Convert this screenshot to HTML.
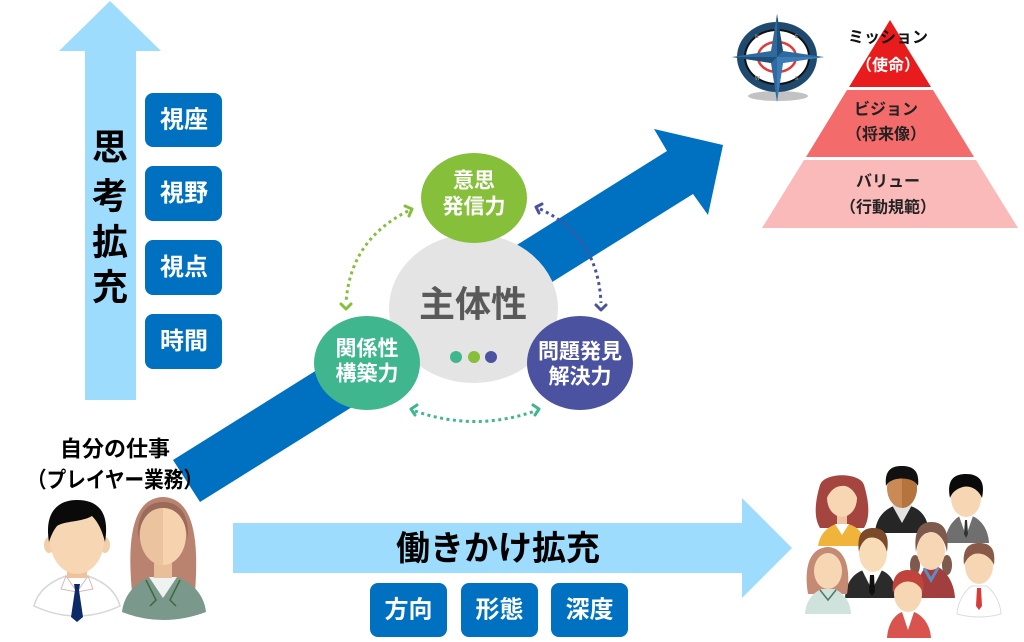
<!DOCTYPE html>
<html><head><meta charset="utf-8"><style>
html,body{margin:0;padding:0;background:#fff;}
svg{display:block}
text{font-family:"Liberation Sans","Noto Sans CJK JP",sans-serif;font-weight:700;}
</style></head><body>
<svg width="1024" height="642" viewBox="0 0 1024 642" xmlns="http://www.w3.org/2000/svg">
<!-- vertical light-blue arrow -->
<polygon points="110,1 161,51 136,51 136,400 85,400 85,51 59,51" fill="#9ddcfc"/>
<g font-size="36" fill="#000" text-anchor="middle" dominant-baseline="central">
<text x="110" y="147">思</text>
<text x="110" y="196">考</text>
<text x="110" y="242">拡</text>
<text x="110" y="287">充</text>
</g>
<!-- left boxes -->
<g fill="#0070c0">
<rect x="145" y="93" width="77" height="54" rx="8"/>
<rect x="145" y="166" width="77" height="55" rx="8"/>
<rect x="145" y="240" width="77" height="55" rx="8"/>
<rect x="145" y="314" width="77" height="55" rx="8"/>
</g>
<g font-size="24" fill="#fff" text-anchor="middle" dominant-baseline="central">
<text x="184" y="120">視座</text>
<text x="184" y="193.5">視野</text>
<text x="184" y="267.5">視点</text>
<text x="184" y="341.5">時間</text>
</g>

<!-- diagonal arrow -->
<polygon points="173,460 667,151 654,129 723,145 708,215 693,194 200,502" fill="#0070c0"/>

<!-- center circle -->
<ellipse cx="473.5" cy="308.5" rx="84.5" ry="74.5" fill="#e4e4e4"/>
<text x="473" y="304" font-size="36" fill="#595959" text-anchor="middle" dominant-baseline="central">主体性</text>
<circle cx="456" cy="357" r="6" fill="#3fb68e"/>
<circle cx="474" cy="357" r="6" fill="#86bf3a"/>
<circle cx="491" cy="357" r="6" fill="#4b53a0"/>

<!-- satellite circles -->
<ellipse cx="474" cy="198" rx="53" ry="45" fill="#86bf3a"/>
<ellipse cx="367" cy="363" rx="53" ry="47" fill="#3fb68e"/>
<ellipse cx="580" cy="363" rx="53" ry="47" fill="#4b53a0"/>
<g font-size="21" fill="#fff" text-anchor="middle" dominant-baseline="central">
<text x="474" y="181">意思</text>
<text x="474" y="207">発信力</text>
<text x="367" y="349">関係性</text>
<text x="367" y="374">構築力</text>
<text x="580" y="352">問題発見</text>
<text x="580" y="377">解決力</text>
</g>

<!-- dotted arcs -->
<g fill="none" stroke-width="3" stroke-dasharray="3 3.5">
<path d="M408,211 Q350,240 346,303" stroke="#86bf3a"/>
<path d="M540,209 Q598,236 601,303" stroke="#4b53a0"/>
<path d="M415,411 Q475,432 535,411" stroke="#3fb68e"/>
</g>
<g fill="none" stroke-width="3" stroke-linecap="round" stroke-linejoin="round">
<polyline points="405,206 412,209 409,216" stroke="#86bf3a"/>
<polyline points="341,304 346,309 351,304" stroke="#86bf3a"/>
<polyline points="542,204 536,207 539,213" stroke="#4b53a0"/>
<polyline points="596,305 601,310 606,305" stroke="#4b53a0"/>
<polyline points="417,405 411,409 415,415" stroke="#3fb68e"/>
<polyline points="533,405 539,409 535,415" stroke="#3fb68e"/>
</g>

<!-- compass -->
<ellipse cx="778" cy="96" rx="30" ry="5" fill="#9a9a9a" opacity="0.6"/>
<ellipse cx="777" cy="57" rx="40" ry="35" fill="#1d4a6e"/>
<ellipse cx="777" cy="57" rx="33" ry="28" fill="#111"/>
<ellipse cx="777" cy="57" rx="31" ry="26" fill="#fff"/>
<ellipse cx="777" cy="57" rx="19" ry="15" fill="none" stroke="#e03a3a" stroke-width="2.5"/>
<polygon points="777,14 783,51 824,57 783,63 777,102 771,63 732,57 771,51" fill="#2e6aa0"/>
<polygon points="777,14 783,51 777,57 771,63 732,57 777,57" fill="#1f4e79"/>
<polygon points="777,57 824,57 783,63 777,102" fill="#3b7cb6"/>
<g fill="#888" font-size="5"><text x="755" y="38">N</text><text x="795" y="38">E</text><text x="755" y="80">W</text><text x="795" y="80">S</text></g>

<!-- pyramid -->
<polygon points="890,20 931,87 849,87" fill="#e81c1c"/>
<polygon points="847,90 933,90 974,157 806,157" fill="#f36b6b"/>
<polygon points="804,160 976,160 1018,228 762,228" fill="#fbbaba"/>
<g font-size="16" text-anchor="middle" dominant-baseline="central">
<text x="888" y="38" fill="#111">ミッション</text>
<text x="888" y="66" fill="#fff">（使命）</text>
<text x="886" y="110" fill="#222">ビジョン</text>
<text x="886" y="135" fill="#222">（将来像）</text>
<text x="888" y="182" fill="#222">バリュー</text>
<text x="888" y="208" fill="#222">（行動規範）</text>
</g>

<!-- horizontal light-blue arrow -->
<polygon points="233,523 742,523 742,498 792,548 742,598 742,573 233,573" fill="#9ddcfc"/>
<text x="498" y="549" font-size="34" fill="#000" text-anchor="middle" dominant-baseline="central">働きかけ拡充</text>
<g fill="#0070c0">
<rect x="370" y="583" width="77" height="54" rx="8"/>
<rect x="461" y="583" width="77" height="54" rx="8"/>
<rect x="551" y="583" width="77" height="54" rx="8"/>
</g>
<g font-size="24" fill="#fff" text-anchor="middle" dominant-baseline="central">
<text x="408.5" y="610">方向</text>
<text x="499.5" y="610">形態</text>
<text x="589.5" y="610">深度</text>
</g>

<!-- left label -->
<g font-size="22" fill="#000" text-anchor="middle" dominant-baseline="central">
<text x="115" y="449">自分の仕事</text>
<text x="115" y="480" textLength="176" lengthAdjust="spacingAndGlyphs">（プレイヤー業務）</text>
</g>

<!-- man -->
<path d="M34,606 C38,590 52,581 66,576 L88,576 C102,581 116,590 120,606 Q77,626 34,606 Z" fill="#fff" stroke="#d6d6d6" stroke-width="1.5"/>
<rect x="67" y="560" width="20" height="18" fill="#eec39c"/>
<polygon points="66,576 77,592 61,589" fill="#fff" stroke="#d9b9b9" stroke-width="1"/>
<polygon points="88,576 77,592 93,589" fill="#fff" stroke="#d9b9b9" stroke-width="1"/>
<polygon points="74,584 80,584 79,590 83,617 77,622 71,617 75,590" fill="#0b2a66"/>
<ellipse cx="49" cy="545" rx="5" ry="8" fill="#f2ceaa"/>
<ellipse cx="105" cy="545" rx="5" ry="8" fill="#f2ceaa"/>
<ellipse cx="77" cy="540" rx="27" ry="34" fill="#f7d6b4"/>
<path d="M49,542 C44,512 58,500 77,500 C98,500 110,512 105,542 C102,530 98,522 92,516 C82,522 64,521 57,526 C53,531 51,536 49,542 Z" fill="#0a0a0a"/>

<!-- woman -->
<path d="M132,592 C127,540 132,498 163,497 C194,498 199,540 195,592 Z" fill="#b9836f"/>
<path d="M122,612 C124,592 140,580 150,577 L176,577 C188,580 204,592 206,612 Q163,628 122,612 Z" fill="#7a988b"/>
<polygon points="149,577 163,598 177,577" fill="#eef2f0"/>
<polyline points="146,580 156,600 150,606" fill="none" stroke="#3f6a3a" stroke-width="1.5"/>
<polyline points="180,580 170,600 176,606" fill="none" stroke="#3f6a3a" stroke-width="1.5"/>
<rect x="154" y="560" width="18" height="18" fill="#e8bf98"/>
<ellipse cx="163" cy="535" rx="23" ry="30" fill="#f6d3ae"/>
<path d="M163,505 L163,565 A23,30 0 0 1 140,535 A23,30 0 0 1 163,505 Z" fill="#ebc49f"/>
<path d="M138,540 C136,510 150,502 163,502 C176,502 190,510 188,540 C186,518 176,508 163,508 C150,508 140,518 138,540 Z" fill="#9a6a5a"/>

<!-- group: P1 red hair woman -->
<path d="M820,528 C812,515 817,495 820,485 C824,472 860,472 864,485 C867,495 872,515 864,528 Z" fill="#a4463f"/>
<path d="M818,546 C820,532 830,526 836,524 L848,524 C856,526 864,532 866,546 Z" fill="#f0b43a"/>
<rect x="837" y="510" width="10" height="15" fill="#eec4a0"/>
<polygon points="835,524 842,535 849,524" fill="#fff"/>
<ellipse cx="842" cy="498" rx="15" ry="19" fill="#f7d6b4"/>
<path d="M826,500 C824,482 834,478 842,478 C852,478 860,484 858,500 C854,488 846,485 842,486 C836,486 830,490 826,500 Z" fill="#a4463f"/>
<!-- P2 dark man -->
<path d="M875,533 C876,515 888,508 894,506 L910,506 C918,508 928,515 929,533 Z" fill="#262626"/>
<polygon points="892,505 902,523 912,505" fill="#e2e2e2"/>
<ellipse cx="902" cy="488" rx="15" ry="20" fill="#c98a55"/>
<path d="M902,468 L902,508 A15,20 0 0 0 902,468 Z" fill="#b5733e"/>
<path d="M886,486 C884,468 894,466 902,466 C912,466 920,470 918,486 C914,476 890,476 886,486 Z" fill="#111"/>
<!-- P3 gray man -->
<path d="M945,543 C946,526 956,518 960,516 L972,516 C978,518 988,526 989,543 Z" fill="#6f6f6f"/>
<polygon points="959,516 966,536 973,516" fill="#fff"/>
<polygon points="965,520 967,520 968,534 966,538 964,534" fill="#333"/>
<ellipse cx="966" cy="498" rx="15" ry="19" fill="#f7d6b4"/>
<path d="M950,498 C946,478 956,474 966,474 C978,474 986,480 982,498 C978,488 968,484 960,488 C955,490 952,493 950,498 Z" fill="#0a0a0a"/>
<!-- P5 suit man -->
<path d="M845,598 C846,580 856,572 864,570 L880,570 C888,572 896,580 897,598 Z" fill="#2b2b2b"/>
<polygon points="862,570 872,590 882,570" fill="#fff"/>
<polygon points="870,575 874,575 875,592 872,596 869,592" fill="#111"/>
<ellipse cx="873" cy="553" rx="14" ry="19" fill="#f8dcb8"/>
<path d="M859,552 C856,532 865,528 873,528 C884,528 890,534 887,552 C884,540 876,536 868,538 C864,540 860,545 859,552 Z" fill="#7a4a2a"/>
<!-- P6 pigtail woman -->
<ellipse cx="915" cy="565" rx="5" ry="10" fill="#7d5a4c"/>
<ellipse cx="947" cy="565" rx="5" ry="10" fill="#7d5a4c"/>
<path d="M916,598 C917,580 922,570 926,567 L938,567 C944,570 954,580 955,598 Z" fill="#a33e3e"/>
<polyline points="924,568 931,580 938,568" fill="none" stroke="#5c8ec2" stroke-width="3"/>
<ellipse cx="931" cy="551" rx="14" ry="19" fill="#f7d6b4"/>
<path d="M916,552 C913,528 922,522 931,522 C942,522 950,528 947,552 C944,536 936,532 931,532 C924,532 918,538 916,552 Z" fill="#7d5a4c"/>
<!-- P4 mint woman -->
<path d="M808,594 C804,570 808,548 828,547 C846,548 851,570 847,594 Z" fill="#c48a74"/>
<path d="M805,614 C806,598 816,591 822,589 L834,589 C840,591 850,598 851,614 Z" fill="#cfe3dc"/>
<polyline points="820,590 828,600 836,590" fill="none" stroke="#4c7a66" stroke-width="1.5"/>
<ellipse cx="828" cy="571" rx="14" ry="18" fill="#f7d6b4"/>
<!-- P7 white shirt man -->
<path d="M957,614 C958,598 968,588 972,586 L986,586 C990,588 1000,598 1001,614 Q979,620 957,614 Z" fill="#fff" stroke="#ddd" stroke-width="1"/>
<polygon points="977,588 981,588 982,606 979,610 976,606" fill="#d83a3a"/>
<ellipse cx="979" cy="566" rx="14" ry="18" fill="#f7d6b4"/>
<path d="M964,565 C962,547 970,543 979,543 C990,543 996,548 994,565 C990,556 982,552 974,554 C969,556 966,560 964,565 Z" fill="#8a5a48"/>
<!-- P8 red man -->
<path d="M887,638 C888,622 896,614 902,612 L914,612 C920,614 930,622 931,638 Z" fill="#d9544e"/>
<polygon points="902,612 908,630 914,612" fill="#fff"/>
<ellipse cx="908" cy="594" rx="14" ry="18" fill="#f7d6b4"/>
<path d="M893,593 C891,575 900,570 908,570 C919,570 926,576 923,593 C920,584 912,580 904,582 C898,584 895,588 893,593 Z" fill="#c0443c"/>
</svg>
</body></html>
